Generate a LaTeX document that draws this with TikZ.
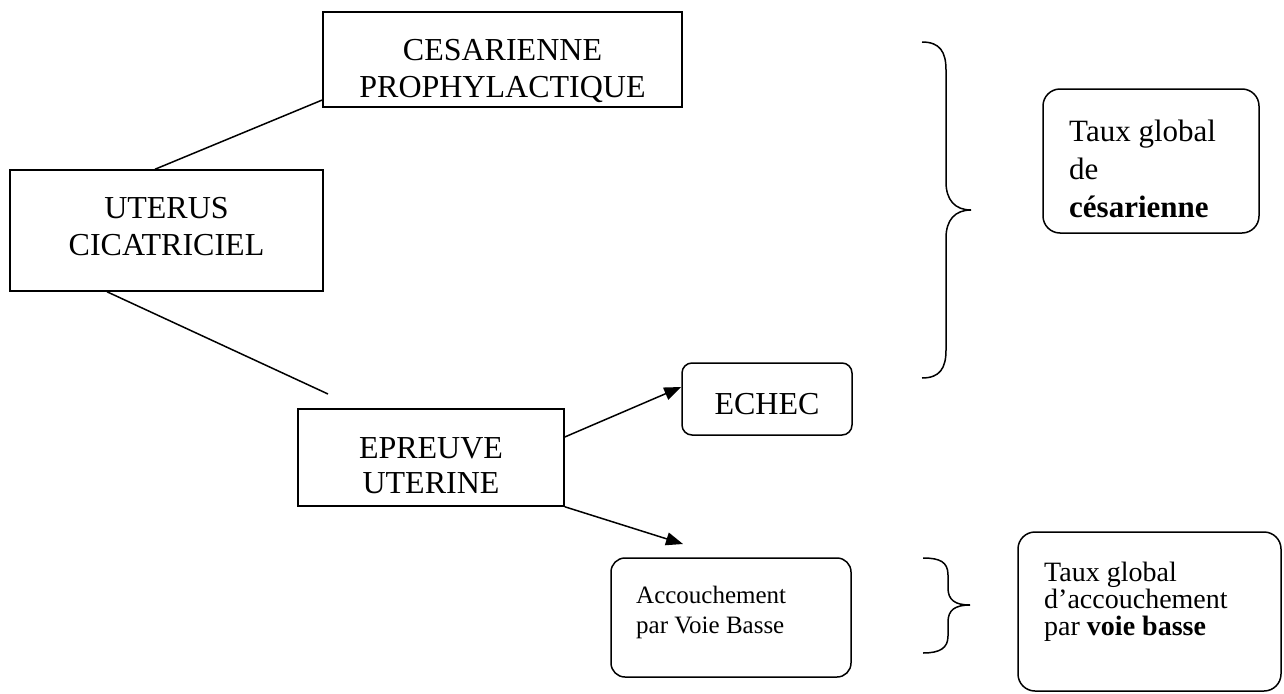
\documentclass[tikz,border=0pt]{standalone}
\usepackage{fontspec}
\setmainfont{Liberation Serif}
\usetikzlibrary{arrows.meta}
\begin{document}
\begin{tikzpicture}[x=1pt,y=-1pt,
  box/.style={draw,line width=1.5pt,rectangle,inner sep=0pt},
  rbox/.style={box,rounded corners=14pt},
  big/.style={font=\fontsize{32}{37}\selectfont,inner sep=0pt,anchor=base},
  accf/.style={font=\fontsize{25}{30}\selectfont,inner sep=0pt,anchor=base west},
  tcf/.style={font=\fontsize{31}{38}\selectfont,inner sep=0pt,anchor=base west},
  tvf/.style={font=\fontsize{28}{27}\selectfont,inner sep=0pt,anchor=base west},
  conn/.style={line width=1.5pt},
  arr/.style={conn,-{Triangle[length=17pt,width=13pt]}},
  brace/.style={line width=1.5pt}
]
\useasboundingbox (0,0) rectangle (1284,693);
\fill[white] (0,0) rectangle (1284,693);

% boxes
\node[box,minimum width=359pt,minimum height=95pt] (ces) at (502.5,59.5) {};
\node[box,minimum width=313pt,minimum height=121pt] (ut) at (166.5,230.5) {};
\node[box,minimum width=266pt,minimum height=97pt] (ep) at (431,457.5) {};
\node[rbox,rounded corners=10pt,minimum width=170pt,minimum height=72pt] (echec) at (767,399) {};
\node[rbox,minimum width=240pt,minimum height=119pt] (acc) at (731,617.5) {};
\node[rbox,rounded corners=17pt,minimum width=216pt,minimum height=144pt] (tc) at (1151,161) {};
\node[rbox,rounded corners=17pt,minimum width=263pt,minimum height=159pt] (tv) at (1149.5,611.5) {};

% texts
\node[big] (ces1) at (502.5,60) {CESARIENNE};
\node[big] (ces2) at (502.5,97) {PROPHYLACTIQUE};
\node[big] (ut1) at (166.5,218) {UTERUS};
\node[big] (ut2) at (166.5,255) {CICATRICIEL};
\node[big] (ep1) at (431,458) {EPREUVE};
\node[big] (ep2) at (431,493) {UTERINE};
\node[big] (ech1) at (767,414) {ECHEC};
\node[accf] (acc1) at (636,603) {Accouchement};
\node[accf] (acc2) at (636,633) {par Voie Basse};
\node[tcf] (tc1) at (1069,141) {Taux global};
\node[tcf] (tc2) at (1069,179) {de};
\node[tcf] (tc3) at (1069,217) {\textbf{césarienne}};
\node[tvf] (tv1) at (1044,581) {Taux global};
\node[tvf] (tv2) at (1044,608) {d’accouchement};
\node[tvf] (tv3) at (1044,635) {par \textbf{voie basse}};

% connectors
\coordinate (c1) at (328,394);
\coordinate (c2) at (683,544);
\draw[conn] ([xshift=-11.5pt]ut.north) -- ([yshift=-40.5pt]ces.west);
\draw[conn] ([xshift=-59.5pt]ut.south) -- (c1);
\draw[arr] ([yshift=20.5pt]ep.east) -- ([yshift=12pt]echec.west);
\draw[arr] (ep.south east) -- (c2);

% braces
\draw[brace] (922,42) .. controls (940,42) and (946,52) .. (946,70) -- (946,182)
  .. controls (946,200) and (955,210) .. (971,210)
  .. controls (955,210) and (946,220) .. (946,238) -- (946,350)
  .. controls (946,368) and (940,378) .. (922,378);
\draw[brace] (923,558) .. controls (940,558) and (948,562) .. (948,575) -- (948,588)
  .. controls (948,600) and (955,605) .. (970,605)
  .. controls (955,605) and (948,610) .. (948,622) -- (948,636)
  .. controls (948,648) and (940,653) .. (923,653);
\end{tikzpicture}
\end{document}
